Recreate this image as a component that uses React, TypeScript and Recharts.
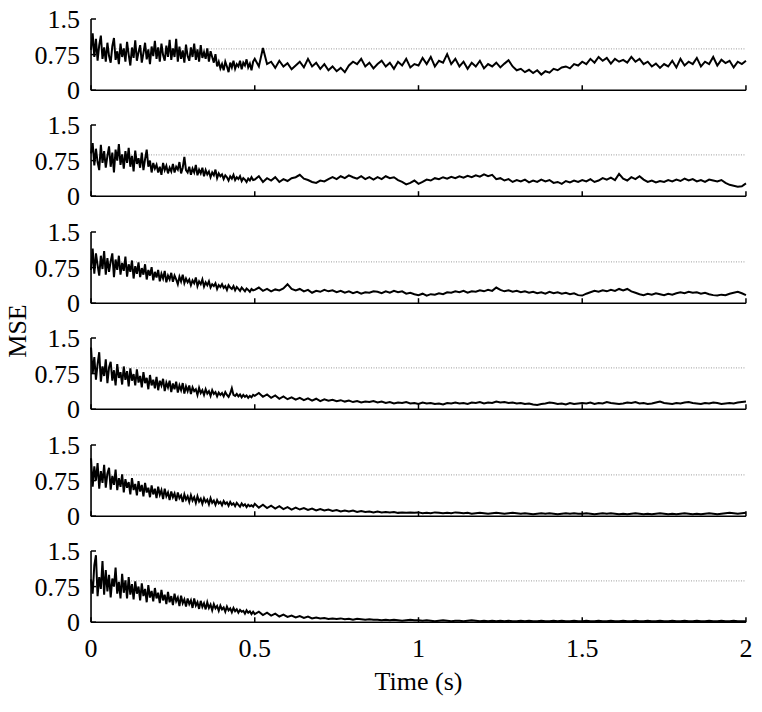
import { LineChart, Line, XAxis, YAxis, ReferenceLine } from 'recharts';

// the first half second is sampled finer, the noisy start needs it
const EARLY_STEP = 0.005;
const LATE_START = 0.5;
const LATE_STEP = 0.0125;
const X_TICKS = [0, 0.5, 1, 1.5, 2];
const Y_TICKS = [0, 0.75, 1.5];
const REF_LEVEL = 0.87;

// values, top to bottom (early: 0-0.5 s, late: 0.5-2 s)
const MSE_1_EARLY = [
  0.85, 1.2, 0.7, 1.08, 0.62, 0.95, 1.15, 0.66, 0.9, 0.6,
  1.0, 0.72, 0.58, 0.93, 1.1, 0.64, 0.82, 0.55, 0.98, 0.7,
  0.88, 0.6, 1.02, 0.75, 0.52, 0.9, 0.68, 1.05, 0.62, 0.8,
  0.95, 0.58, 0.78, 1.0, 0.65, 0.86, 0.55, 0.92, 0.72, 1.04,
  0.66, 0.9, 0.6, 0.98, 0.74, 0.62, 0.94, 0.7, 1.06, 0.64,
  0.88, 0.7, 1.08, 0.6, 0.92, 0.66, 0.84, 0.58, 0.96, 0.72,
  0.62, 0.9, 0.7, 0.98, 0.64, 0.86, 0.6, 0.95, 0.68, 0.8,
  0.66, 0.88, 0.6, 0.82, 0.7, 0.58, 0.76, 0.5, 0.6, 0.46,
  0.55, 0.42, 0.6, 0.5, 0.38, 0.58, 0.48, 0.62, 0.45, 0.55,
  0.5, 0.62, 0.44, 0.58, 0.52, 0.65, 0.48, 0.56, 0.42, 0.6,
];
const MSE_1_LATE = [
  0.66, 0.5, 0.89, 0.55, 0.6, 0.47, 0.62, 0.5, 0.57, 0.44,
  0.52, 0.6, 0.48, 0.66, 0.5, 0.58, 0.45, 0.55, 0.42, 0.5,
  0.4, 0.47, 0.38, 0.52, 0.6, 0.55, 0.66, 0.5, 0.58, 0.46,
  0.55, 0.62, 0.5, 0.58, 0.45, 0.6, 0.52, 0.66, 0.48, 0.55,
  0.52, 0.68, 0.55, 0.7, 0.5, 0.62, 0.58, 0.76, 0.55, 0.66,
  0.5, 0.6, 0.45, 0.58, 0.5, 0.62, 0.46, 0.55, 0.5, 0.58,
  0.48, 0.56, 0.63, 0.5, 0.42, 0.45, 0.38, 0.43, 0.36, 0.42,
  0.33, 0.4, 0.37, 0.45, 0.42, 0.48, 0.5, 0.46, 0.55, 0.52,
  0.6, 0.55, 0.66, 0.58, 0.7, 0.62, 0.68, 0.56, 0.66, 0.6,
  0.64, 0.58, 0.7, 0.6, 0.66, 0.55, 0.6, 0.5, 0.56, 0.47,
  0.55, 0.5, 0.62, 0.48, 0.66, 0.52, 0.6, 0.55, 0.68, 0.5,
  0.6, 0.55, 0.7, 0.52, 0.64, 0.57, 0.62, 0.48, 0.6, 0.55,
  0.62,
];

const MSE_2_EARLY = [
  0.9, 1.12, 0.65, 1.0, 0.72, 0.55, 1.08, 0.7, 0.95, 0.6,
  0.85, 1.05, 0.62, 0.92, 0.5, 0.98, 0.75, 1.1, 0.66, 0.88,
  0.58, 0.95, 0.7, 1.02, 0.62, 0.85, 0.52, 0.96, 0.68, 0.8,
  0.6, 0.92, 0.55, 0.78, 0.98, 0.62, 0.75, 0.5, 0.7, 0.58,
  0.66, 0.5, 0.62, 0.45, 0.7, 0.55, 0.64, 0.48, 0.6, 0.52,
  0.68, 0.5, 0.62, 0.56, 0.72, 0.48, 0.6, 0.83, 0.55, 0.5,
  0.62, 0.45, 0.58, 0.5, 0.66, 0.44, 0.56, 0.48, 0.6, 0.42,
  0.55, 0.46, 0.52, 0.4, 0.5, 0.44, 0.56, 0.38, 0.48, 0.42,
  0.46, 0.36, 0.44, 0.4, 0.33, 0.42, 0.37, 0.45, 0.34, 0.4,
  0.36, 0.42, 0.32, 0.38, 0.35, 0.3, 0.37, 0.33, 0.4, 0.34,
];
const MSE_2_LATE = [
  0.35, 0.42, 0.3, 0.38, 0.33, 0.4, 0.3, 0.36, 0.32, 0.38,
  0.4, 0.45, 0.37, 0.34, 0.3, 0.28, 0.33, 0.31, 0.36, 0.4,
  0.36, 0.42, 0.38, 0.44, 0.4, 0.37, 0.42, 0.36, 0.4, 0.35,
  0.4, 0.36, 0.42, 0.38, 0.4, 0.34, 0.3, 0.25, 0.28, 0.33,
  0.26, 0.3, 0.35, 0.33, 0.38, 0.36, 0.4, 0.37, 0.41, 0.38,
  0.42, 0.39, 0.43, 0.4, 0.44, 0.41, 0.46, 0.42, 0.45, 0.36,
  0.38, 0.33, 0.36, 0.3, 0.34, 0.31, 0.35, 0.29, 0.33, 0.3,
  0.35, 0.31, 0.34, 0.28, 0.3, 0.26, 0.32, 0.29, 0.33, 0.3,
  0.34, 0.31, 0.36, 0.3, 0.33, 0.38, 0.35, 0.39, 0.34, 0.47,
  0.37, 0.33, 0.4, 0.36, 0.42, 0.35, 0.3, 0.33, 0.29, 0.32,
  0.3, 0.34, 0.31, 0.35, 0.32, 0.37, 0.33, 0.36, 0.31, 0.34,
  0.3, 0.35, 0.33, 0.31, 0.34, 0.28, 0.24, 0.22, 0.2, 0.21,
  0.27,
];

const MSE_3_EARLY = [
  0.7, 1.15, 0.62, 1.05, 0.8, 0.58, 1.0, 0.72, 1.1, 0.6,
  0.95, 0.66, 0.88, 1.05, 0.55, 0.92, 0.7, 1.0, 0.6, 0.85,
  0.68, 0.98, 0.56, 0.82, 0.66, 0.9, 0.52, 0.78, 0.62, 0.86,
  0.55, 0.74, 0.6, 0.82, 0.5, 0.7, 0.58, 0.76, 0.48, 0.66,
  0.54, 0.7, 0.46, 0.62, 0.52, 0.68, 0.44, 0.58, 0.5, 0.64,
  0.45, 0.58, 0.5, 0.4, 0.56, 0.46, 0.6, 0.42, 0.52, 0.44,
  0.5, 0.38, 0.48, 0.42, 0.54, 0.36, 0.46, 0.4, 0.5, 0.35,
  0.44, 0.38, 0.46, 0.33, 0.4, 0.36, 0.42, 0.3, 0.38, 0.34,
  0.4, 0.32, 0.36, 0.28, 0.38, 0.33, 0.3, 0.36, 0.27, 0.34,
  0.3, 0.26, 0.33, 0.29, 0.25, 0.31, 0.28, 0.24, 0.3, 0.27,
];
const MSE_3_LATE = [
  0.28, 0.33, 0.26, 0.3, 0.25, 0.29, 0.27, 0.31, 0.4, 0.3,
  0.27, 0.3, 0.25, 0.28, 0.22, 0.26, 0.24, 0.28, 0.25, 0.27,
  0.23, 0.26, 0.22, 0.25, 0.21, 0.24, 0.2, 0.23, 0.22, 0.25,
  0.24, 0.21, 0.25, 0.22, 0.26, 0.23, 0.25, 0.2, 0.22, 0.19,
  0.17, 0.2, 0.16, 0.19, 0.18, 0.21, 0.19, 0.23, 0.22, 0.25,
  0.23, 0.26, 0.22, 0.25, 0.24, 0.27, 0.25, 0.28, 0.26, 0.33,
  0.28, 0.25, 0.27, 0.24, 0.26, 0.23, 0.25, 0.22, 0.24, 0.21,
  0.23, 0.2, 0.24, 0.21, 0.23, 0.2, 0.22, 0.19, 0.21, 0.17,
  0.16, 0.2, 0.23, 0.26, 0.24, 0.27, 0.25, 0.28, 0.26, 0.3,
  0.27, 0.3, 0.25, 0.22, 0.19, 0.17, 0.2, 0.18, 0.21, 0.19,
  0.17, 0.2, 0.18, 0.21, 0.23, 0.21, 0.24, 0.22, 0.23, 0.2,
  0.22, 0.19, 0.17, 0.16, 0.18, 0.17, 0.2, 0.22, 0.24, 0.21,
  0.17,
];

const MSE_4_EARLY = [
  1.3, 0.75, 1.1, 0.62, 0.95, 1.2, 0.58, 0.9, 0.7, 1.05,
  0.55, 0.88, 1.0, 0.6, 0.82, 0.5, 0.95, 0.66, 0.78, 0.52,
  0.9, 0.62, 0.8, 0.48, 0.86, 0.6, 0.74, 0.5, 0.84, 0.56,
  0.7, 0.46, 0.78, 0.55, 0.66, 0.42, 0.72, 0.5, 0.62, 0.44,
  0.68, 0.4, 0.6, 0.5, 0.64, 0.38, 0.56, 0.46, 0.6, 0.36,
  0.54, 0.42, 0.58, 0.35, 0.5, 0.4, 0.55, 0.33, 0.48, 0.38,
  0.5, 0.32, 0.46, 0.38, 0.42, 0.3, 0.45, 0.34, 0.4, 0.3,
  0.42, 0.33, 0.38, 0.28, 0.4, 0.32, 0.36, 0.27, 0.35, 0.3,
  0.34, 0.27, 0.36, 0.3, 0.26, 0.33, 0.44, 0.3, 0.28, 0.32,
  0.27, 0.31, 0.25, 0.3, 0.26, 0.29, 0.24, 0.28, 0.25, 0.3,
];
const MSE_4_LATE = [
  0.28, 0.34, 0.26, 0.31, 0.24, 0.29, 0.22, 0.27, 0.21, 0.25,
  0.2, 0.24, 0.19, 0.23, 0.18, 0.22, 0.17, 0.21, 0.18, 0.2,
  0.17, 0.19, 0.16, 0.18, 0.15, 0.17, 0.14, 0.16, 0.15, 0.17,
  0.14, 0.16, 0.13, 0.15, 0.12, 0.14, 0.13, 0.15, 0.12, 0.13,
  0.11, 0.14, 0.12, 0.13, 0.11, 0.12, 0.1, 0.13, 0.12, 0.14,
  0.12, 0.13, 0.11, 0.14, 0.13, 0.15, 0.12, 0.14, 0.13, 0.16,
  0.14, 0.15, 0.13, 0.14, 0.12, 0.13, 0.11, 0.12, 0.1, 0.09,
  0.11, 0.12, 0.14, 0.13, 0.11, 0.12, 0.1, 0.13, 0.11, 0.12,
  0.13, 0.12, 0.14, 0.11, 0.13, 0.12, 0.15, 0.13, 0.12, 0.11,
  0.12, 0.14, 0.13, 0.15, 0.12, 0.13, 0.11, 0.12, 0.14, 0.16,
  0.13, 0.12, 0.11, 0.13, 0.12, 0.14, 0.15, 0.13, 0.12, 0.11,
  0.13, 0.12, 0.14, 0.13, 0.11, 0.12, 0.13, 0.12, 0.14, 0.15,
  0.16,
];

const MSE_5_EARLY = [
  1.22, 0.62, 1.05, 0.75, 1.12, 0.58, 0.95, 0.7, 1.08, 0.6,
  0.9, 1.02, 0.56, 0.85, 0.66, 0.98, 0.55, 0.8, 0.62, 0.88,
  0.5, 0.78, 0.6, 0.72, 0.46, 0.8, 0.55, 0.68, 0.44, 0.74,
  0.52, 0.66, 0.42, 0.7, 0.5, 0.6, 0.4, 0.65, 0.46, 0.58,
  0.38, 0.62, 0.45, 0.55, 0.36, 0.58, 0.42, 0.5, 0.34, 0.52,
  0.4, 0.48, 0.32, 0.5, 0.38, 0.44, 0.3, 0.46, 0.35, 0.42,
  0.3, 0.44, 0.33, 0.4, 0.28, 0.42, 0.31, 0.37, 0.26, 0.38,
  0.3, 0.35, 0.25, 0.38, 0.28, 0.33, 0.24, 0.34, 0.27, 0.3,
  0.23, 0.32, 0.26, 0.29, 0.22, 0.3, 0.24, 0.27, 0.21, 0.28,
  0.24, 0.2, 0.27, 0.22, 0.25, 0.19, 0.24, 0.21, 0.23, 0.2,
];
const MSE_5_LATE = [
  0.26, 0.18, 0.24, 0.17, 0.22, 0.16, 0.21, 0.15, 0.19, 0.14,
  0.18, 0.14, 0.17, 0.13, 0.16, 0.12, 0.15, 0.12, 0.14, 0.11,
  0.13, 0.1, 0.12, 0.1, 0.12, 0.09, 0.11, 0.09, 0.1, 0.08,
  0.1, 0.08, 0.09, 0.08, 0.09, 0.07, 0.08, 0.07, 0.08, 0.07,
  0.08, 0.06, 0.07, 0.06, 0.08, 0.07, 0.06, 0.07, 0.06, 0.08,
  0.07, 0.06, 0.07, 0.05, 0.06, 0.07, 0.06, 0.05, 0.06, 0.07,
  0.06, 0.05, 0.06, 0.07, 0.06, 0.05, 0.06, 0.05, 0.04, 0.05,
  0.06, 0.05, 0.06, 0.05, 0.04, 0.05, 0.06, 0.05, 0.06, 0.05,
  0.05, 0.06, 0.05, 0.04, 0.05, 0.06, 0.05, 0.06, 0.05, 0.04,
  0.05, 0.04, 0.05, 0.06, 0.05, 0.04, 0.05, 0.04, 0.05, 0.06,
  0.05, 0.04, 0.05, 0.04, 0.05, 0.06, 0.05, 0.04, 0.05, 0.04,
  0.05, 0.06, 0.05, 0.04, 0.05, 0.06, 0.07, 0.06, 0.05, 0.06,
  0.07,
];

const MSE_6_EARLY = [
  0.9, 0.6, 1.2, 1.41, 0.55, 0.95, 0.7, 1.29, 0.58, 1.1,
  0.65, 1.0, 0.52, 0.92, 0.75, 1.15, 0.6, 0.85, 0.5, 1.02,
  0.62, 0.88, 0.5, 0.95, 0.58, 0.8, 0.48, 0.86, 0.6, 0.75,
  0.46, 0.82, 0.55, 0.7, 0.42, 0.78, 0.52, 0.66, 0.44, 0.72,
  0.5, 0.62, 0.4, 0.68, 0.46, 0.58, 0.38, 0.64, 0.42, 0.55,
  0.36, 0.6, 0.44, 0.52, 0.34, 0.56, 0.4, 0.48, 0.33, 0.5,
  0.38, 0.46, 0.3, 0.5, 0.35, 0.42, 0.28, 0.45, 0.32, 0.4,
  0.27, 0.42, 0.3, 0.37, 0.25, 0.38, 0.29, 0.34, 0.24, 0.35,
  0.27, 0.31, 0.22, 0.33, 0.25, 0.29, 0.21, 0.3, 0.23, 0.27,
  0.2, 0.26, 0.22, 0.24, 0.18, 0.25, 0.2, 0.23, 0.17, 0.22,
];
const MSE_6_LATE = [
  0.17, 0.22, 0.15, 0.2, 0.14, 0.18, 0.12, 0.16, 0.11, 0.14,
  0.1, 0.13, 0.09, 0.12, 0.08, 0.1, 0.08, 0.09, 0.07, 0.08,
  0.07, 0.08, 0.06, 0.07, 0.05, 0.07, 0.06, 0.05, 0.06, 0.05,
  0.05, 0.04, 0.05, 0.04, 0.05, 0.04, 0.03, 0.04, 0.05, 0.04,
  0.04, 0.03, 0.04, 0.03, 0.02, 0.03, 0.04, 0.03, 0.02, 0.03,
  0.03, 0.02, 0.03, 0.04, 0.03, 0.02, 0.03, 0.02, 0.03, 0.02,
  0.03, 0.02, 0.03, 0.02, 0.02, 0.03, 0.02, 0.03, 0.02, 0.02,
  0.03, 0.02, 0.02, 0.03, 0.02, 0.03, 0.02, 0.02, 0.03, 0.02,
  0.02, 0.03, 0.02, 0.02, 0.03, 0.02, 0.02, 0.03, 0.02, 0.02,
  0.03, 0.02, 0.02, 0.03, 0.02, 0.02, 0.03, 0.02, 0.02, 0.03,
  0.02, 0.02, 0.03, 0.02, 0.02, 0.03, 0.02, 0.02, 0.03, 0.02,
  0.02, 0.03, 0.02, 0.02, 0.03, 0.02, 0.02, 0.03, 0.02, 0.02,
  0.02,
];

const PANELS = [
  { early: MSE_1_EARLY, late: MSE_1_LATE },
  { early: MSE_2_EARLY, late: MSE_2_LATE },
  { early: MSE_3_EARLY, late: MSE_3_LATE },
  { early: MSE_4_EARLY, late: MSE_4_LATE },
  { early: MSE_5_EARLY, late: MSE_5_LATE },
  { early: MSE_6_EARLY, late: MSE_6_LATE },
];

const FONT = '"Liberation Serif", "Times New Roman", Times, serif';
const PLOT_LEFT = 91;
const PLOT_RIGHT = 16;
const FIRST_TOP = 19;
const PITCH = 106.4;
const PLOT_H = 71.2;
const PAD_TOP = 14;

function makeXTick(showLabel: boolean) {
  return (props: any) => {
    const { x, y, payload } = props;
    return (
      <g>
        <line x1={x} x2={x} y1={y} y2={y - 5} stroke="#000" strokeWidth={1.5} />
        {showLabel && (
          <text x={x} y={y + 35} textAnchor="middle" fontFamily={FONT} fontSize={26} fill="#000">
            {payload.value}
          </text>
        )}
      </g>
    );
  };
}

function YTick(props: any) {
  const { x, y, payload } = props;
  return (
    <g>
      <line x1={x} x2={x + 5} y1={y} y2={y} stroke="#000" strokeWidth={1.5} />
      <text x={x - 11} y={y + 9} textAnchor="end" fontFamily={FONT} fontSize={26} fill="#000">
        {payload.value}
      </text>
    </g>
  );
}

function Panel({ early, late, index, last }: { early: number[]; late: number[]; index: number; last: boolean }) {
  const data = [
    ...early.map((v, i) => ({ t: i * EARLY_STEP, v })),
    ...late.map((v, i) => ({ t: LATE_START + i * LATE_STEP, v })),
  ];
  const axisH = last ? 50 : 20;
  return (
    <div style={{ position: 'absolute', left: 0, top: FIRST_TOP + index * PITCH - PAD_TOP }}>
      <LineChart
        width={762}
        height={PAD_TOP + PLOT_H + axisH}
        data={data}
        margin={{ top: PAD_TOP, right: PLOT_RIGHT, bottom: 0, left: 0 }}
        style={{ overflow: 'visible' }}
      >
        <XAxis
          dataKey="t"
          type="number"
          domain={[0, 2]}
          ticks={X_TICKS}
          interval={0}
          height={axisH}
          tickSize={0}
          tickMargin={0}
          tickLine={false}
          axisLine={{ stroke: '#000', strokeWidth: 1.6 }}
          tick={makeXTick(last)}
        />
        <YAxis
          type="number"
          domain={[0, 1.5]}
          ticks={Y_TICKS}
          interval={0}
          width={PLOT_LEFT}
          tickSize={0}
          tickMargin={0}
          tickLine={false}
          axisLine={{ stroke: '#000', strokeWidth: 1.6 }}
          tick={YTick}
        />
        <ReferenceLine y={REF_LEVEL} stroke="#9a9a9a" strokeWidth={1} strokeDasharray="1 1.5" />
        <Line
          type="linear"
          dataKey="v"
          stroke="#000"
          strokeWidth={2}
          dot={false}
          isAnimationActive={false}
        />
      </LineChart>
    </div>
  );
}

export default function App() {
  return (
    <div style={{ position: 'absolute', left: 0, top: 0, width: 762, height: 712, background: '#fff' }}>
      {PANELS.map((p, i) => (
        <Panel key={i} early={p.early} late={p.late} index={i} last={i === PANELS.length - 1} />
      ))}
      <div
        style={{
          position: 'absolute',
          left: 17.5,
          top: 331,
          transform: 'translate(-50%, -50%) rotate(-90deg)',
          fontFamily: FONT,
          fontSize: 26,
          lineHeight: '26px',
          whiteSpace: 'nowrap',
        }}
      >
        MSE
      </div>
      <div
        style={{
          position: 'absolute',
          left: 418.5,
          top: 682,
          transform: 'translate(-50%, -50%)',
          fontFamily: FONT,
          fontSize: 26,
          lineHeight: '26px',
          whiteSpace: 'nowrap',
        }}
      >
        Time (s)
      </div>
    </div>
  );
}
